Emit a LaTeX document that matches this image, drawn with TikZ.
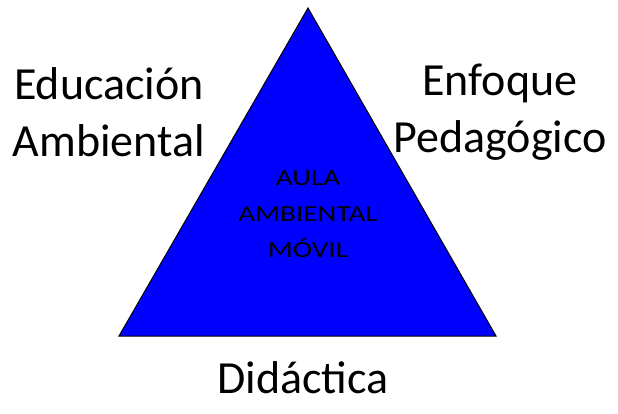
\documentclass[tikz,border=0pt]{standalone}
\usepackage{fontspec}
\setmainfont{Carlito}
\newfontfamily\widefont[FakeStretch=1.27]{Carlito}
\usetikzlibrary{positioning}
\tikzset{
    pyramid/.style={
           fill=blue,
           draw=black,
           line width=1pt,
           line join=miter
           },
    side/.style={
              font=\fontsize{46}{57}\selectfont,
              align=center,
              inner sep=0pt
              },
    inside/.style={
              font=\widefont\fontsize{23}{36}\selectfont,
              align=center,
              inner sep=0pt
              },
}
\begin{document}
\begin{tikzpicture}[x=1pt,y=-1pt]
  \useasboundingbox (0,0) rectangle (618,414);
     \coordinate (top)   at (308,8);
     \coordinate (left)  at (119,336);
     \coordinate (right) at (496,336);
     \fill[white] (0,0) rectangle (618,414);
     \draw[pyramid] (top) -- (right) -- (left) -- cycle;
     \node[inside] (aula)    at (308,214) {AULA\\AMBIENTAL\\MÓVIL};
     \node[side]   (educ)    at (109,112) {Educación\\Ambiental};
     \node[side]   (enfoque) at (500,112) {Enfoque\\Pedagógico};
     \node[side]   (didac)   at (303,378) {Didáctica};
\end{tikzpicture}
\end{document}
